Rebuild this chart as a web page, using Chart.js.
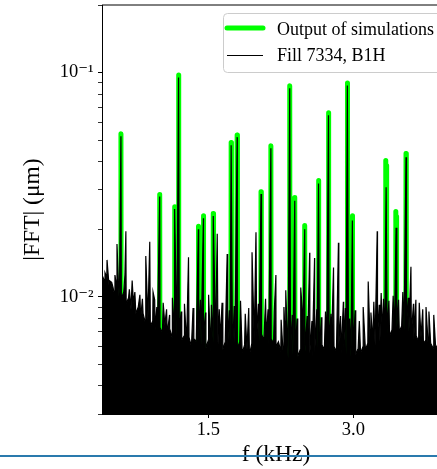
<!DOCTYPE html>
<html>
<head>
<meta charset="utf-8">
<script src="https://cdn.jsdelivr.net/npm/chart.js"></script>
<style>
html, body { margin: 0; padding: 0; overflow: hidden; background: #fff; }
</style>
</head>
<body>
<canvas id="fftChart" width="456" height="469"></canvas>
<script>
// axis ranges and ticks
const xMin = 0.4, xMax = 4.0;
const yMin = 0.003, yMax = 0.2;
const xTicks = [1.5, 3.0];
const yMajorTicks = [0.01, 0.1];
const yTickLabels = ["10⁻²", "10⁻¹"];

// simulated harmonic lines (kHz, um)
const simFreq = [0.596, 0.997, 1.151, 1.192, 1.397, 1.449, 1.551, 1.736, 1.798, 2.045, 2.147, 2.342,
                 2.394, 2.497, 2.640, 2.743, 2.938, 2.990, 3.334, 3.343, 3.438, 3.446, 3.545];
const simAmp = [0.0533, 0.0286, 0.0252, 0.0975, 0.0206, 0.0230, 0.0235, 0.0487, 0.0527, 0.0294, 0.0471, 0.0872,
                0.0277, 0.0208, 0.0330, 0.0661, 0.0897, 0.0230, 0.0405, 0.0385, 0.0240, 0.0228, 0.0435];
const simFloor = 0.002;
const simHalfWidth = 0.003;

// measured spectrum, noise floor
const noiseFreq = [
  0.400, 0.425, 0.450, 0.475, 0.500, 0.525, 0.550, 0.575,
  0.600, 0.625, 0.650, 0.675, 0.700, 0.725, 0.750, 0.775,
  0.800, 0.825, 0.850, 0.875, 0.900, 0.925, 0.950, 0.975,
  1.000, 1.025, 1.050, 1.075, 1.100, 1.125, 1.150, 1.175,
  1.200, 1.225, 1.250, 1.275, 1.300, 1.325, 1.350, 1.375,
  1.400, 1.425, 1.450, 1.475, 1.500, 1.525, 1.550, 1.575,
  1.600, 1.625, 1.650, 1.675, 1.700, 1.725, 1.750, 1.775,
  1.800, 1.825, 1.850, 1.875, 1.900, 1.925, 1.950, 1.975,
  2.000, 2.025, 2.050, 2.075, 2.100, 2.125, 2.150, 2.175,
  2.200, 2.225, 2.250, 2.275, 2.300, 2.325, 2.350, 2.375,
  2.400, 2.425, 2.450, 2.475, 2.500, 2.525, 2.550, 2.575,
  2.600, 2.625, 2.650, 2.675, 2.700, 2.725, 2.750, 2.775,
  2.800, 2.825, 2.850, 2.875, 2.900, 2.925, 2.950, 2.975,
  3.000, 3.025, 3.050, 3.075, 3.100, 3.125, 3.150, 3.175,
  3.200, 3.225, 3.250, 3.275, 3.300, 3.325, 3.350, 3.375,
  3.400, 3.425, 3.450, 3.475, 3.500, 3.525, 3.550, 3.575,
  3.600, 3.625, 3.650, 3.675, 3.700, 3.725, 3.750, 3.775,
  3.800, 3.825, 3.850, 3.875, 3.900, 3.925, 3.950, 3.975,
  4.000];
const noiseAmp = [
  0.0125, 0.0118, 0.0122, 0.0109, 0.0116, 0.0104, 0.0112, 0.0101,
  0.0098, 0.0105, 0.0093, 0.0099, 0.0088, 0.0094, 0.0084, 0.0090,
  0.0080, 0.0084, 0.0076, 0.0079, 0.0074, 0.0078, 0.0071, 0.0076,
  0.0073, 0.0069, 0.0075, 0.0068, 0.0072, 0.0066, 0.0071, 0.0067,
  0.0069, 0.0064, 0.0067, 0.0062, 0.0066, 0.0060, 0.0065, 0.0063,
  0.0066, 0.0061, 0.0068, 0.0059, 0.0064, 0.0057, 0.0063, 0.0066,
  0.0061, 0.0065, 0.0058, 0.0063, 0.0060, 0.0064, 0.0057, 0.0062,
  0.0059, 0.0063, 0.0056, 0.0061, 0.0058, 0.0055, 0.0062, 0.0065,
  0.0067, 0.0063, 0.0068, 0.0064, 0.0066, 0.0061, 0.0065, 0.0062,
  0.0060, 0.0063, 0.0057, 0.0055, 0.0059, 0.0053, 0.0057, 0.0055,
  0.0057, 0.0054, 0.0058, 0.0055, 0.0057, 0.0053, 0.0056, 0.0054,
  0.0056, 0.0059, 0.0055, 0.0061, 0.0058, 0.0062, 0.0059, 0.0063,
  0.0060, 0.0057, 0.0061, 0.0056, 0.0059, 0.0055, 0.0058, 0.0054,
  0.0057, 0.0055, 0.0059, 0.0056, 0.0060, 0.0058, 0.0062, 0.0060,
  0.0063, 0.0061, 0.0066, 0.0063, 0.0068, 0.0065, 0.0069, 0.0067,
  0.0071, 0.0068, 0.0073, 0.0070, 0.0074, 0.0071, 0.0075, 0.0070,
  0.0068, 0.0065, 0.0067, 0.0063, 0.0066, 0.0062, 0.0064, 0.0060,
  0.0062, 0.0059, 0.0061, 0.0058, 0.0060, 0.0057, 0.0059, 0.0056,
  0.0058];

// measured spectrum, lines under the simulated peaks
const lineFreq = [0.596, 0.997, 1.151, 1.192, 1.397, 1.449, 1.551, 1.736, 1.798, 2.045, 2.147,
                  2.342, 2.394, 2.497, 2.640, 2.743, 2.938, 2.990, 3.339, 3.442, 3.545];
const lineAmp = [0.0520, 0.0280, 0.0246, 0.0950, 0.0200, 0.0224, 0.0229, 0.0474, 0.0515, 0.0287, 0.0459,
                 0.0850, 0.0268, 0.0200, 0.0320, 0.0645, 0.0875, 0.0219, 0.0308, 0.0203, 0.0419];

// measured spectrum, other spikes
const spikeFreq = [0.431, 0.452, 0.478, 0.514, 0.534, 0.555, 0.582, 0.637, 0.647, 0.683, 0.712, 0.740,
  0.792, 0.818, 0.853, 0.894, 0.928, 0.945, 0.967, 1.033, 1.068, 1.099, 1.128, 1.218, 1.253, 1.295,
  1.342, 1.418, 1.472, 1.503, 1.532, 1.592, 1.613, 1.642, 1.695, 1.718, 1.768, 1.833, 1.882, 1.918,
  1.952, 1.993, 2.018, 2.092, 2.118, 2.182, 2.199, 2.253, 2.282, 2.301, 2.368, 2.418, 2.456, 2.472,
  2.522, 2.548, 2.572, 2.599, 2.622, 2.668, 2.712, 2.768, 2.795, 2.846, 2.868, 2.897, 2.918, 2.962,
  3.018, 3.062, 3.102, 3.154, 3.182, 3.212, 3.247, 3.268, 3.288, 3.312, 3.368, 3.412, 3.468, 3.512,
  3.568, 3.596, 3.622, 3.647, 3.682, 3.718, 3.752, 3.782, 3.832, 3.882, 3.932, 3.968];
const spikeAmp = [0.0128, 0.0146, 0.0118, 0.0110, 0.0125, 0.0172, 0.0115, 0.0125, 0.0196, 0.0108, 0.0118, 0.0105,
  0.0102, 0.0098, 0.0152, 0.0176, 0.0105, 0.0097, 0.0090, 0.0094, 0.0088, 0.0083, 0.0099, 0.0086, 0.0093, 0.0150,
  0.0089, 0.0097, 0.0085, 0.0102, 0.0092, 0.0191, 0.0088, 0.0094, 0.0155, 0.0087, 0.0091, 0.0096, 0.0084, 0.0089,
  0.0158, 0.0194, 0.0093, 0.0098, 0.0088, 0.0086, 0.0125, 0.0079, 0.0090, 0.0107, 0.0083, 0.0080, 0.0110, 0.0086,
  0.0082, 0.0157, 0.0078, 0.0149, 0.0088, 0.0081, 0.0086, 0.0084, 0.0135, 0.0174, 0.0082, 0.0095, 0.0089, 0.0080,
  0.0087, 0.0078, 0.0090, 0.0117, 0.0085, 0.0095, 0.0196, 0.0092, 0.0104, 0.0098, 0.0096, 0.0101, 0.0097, 0.0105,
  0.0099, 0.0136, 0.0093, 0.0097, 0.0094, 0.0088, 0.0090, 0.0086, 0.0083, 0.0085, 0.0080, 0.0082];

const serif = "'Liberation Serif', 'Times New Roman', 'DejaVu Serif', serif";

const simPoints = [];
simFreq.forEach((f, i) => {
    simPoints.push({ x: f - simHalfWidth, y: simFloor }, { x: f, y: simAmp[i] }, { x: f + simHalfWidth, y: simFloor });
});
simPoints.sort((a, b) => a.x - b.x);

const measPoints = noiseFreq.map((f, i) => ({ x: f, y: noiseAmp[i] }))
    .concat(lineFreq.map((f, i) => ({ x: f, y: lineAmp[i] })))
    .concat(spikeFreq.map((f, i) => ({ x: f, y: spikeAmp[i] })))
    .sort((a, b) => a.x - b.x);

function isMajor(v) {
    return yMajorTicks.some(t => Math.abs(t - v) < t * 1e-6);
}

// top / right spines
const framePlugin = {
    id: 'frame',
    afterDatasetsDraw(chart) {
        const c = chart.ctx, a = chart.chartArea;
        c.save();
        c.strokeStyle = '#000';
        c.lineWidth = 1;
        c.beginPath();
        c.moveTo(a.left, a.top);
        c.lineTo(a.right, a.top);
        c.lineTo(a.right, a.bottom);
        c.stroke();
        c.restore();
    }
};

// boxed legend inside the plot, upper right
const legendPlugin = {
    id: 'insideLegend',
    afterDraw(chart) {
        const c = chart.ctx, a = chart.chartArea;
        const left = a.right - 227, top = a.top + 8, w = 222, h = 59;
        c.save();
        c.beginPath();
        if (c.roundRect) c.roundRect(left + 0.5, top + 0.5, w, h, 4);
        else c.rect(left + 0.5, top + 0.5, w, h);
        c.fillStyle = 'rgba(255,255,255,0.8)';
        c.fill();
        c.strokeStyle = '#cccccc';
        c.lineWidth = 1;
        c.stroke();
        chart.data.datasets.forEach((ds, i) => {
            const thin = ds.borderWidth < 2;
            const yLine = top + 15 + i * 27 + (thin ? 0.5 : 0);
            c.beginPath();
            c.moveTo(left + 4, yLine);
            c.lineTo(left + 40, yLine);
            c.strokeStyle = ds.borderColor;
            c.lineWidth = thin ? 1 : ds.borderWidth;
            c.lineCap = ds.borderCapStyle || 'butt';
            c.stroke();
            c.fillStyle = '#000';
            c.font = '18px ' + serif;
            c.textBaseline = 'alphabetic';
            c.fillText(ds.label, left + 54, top + 22 + i * 26);
        });
        c.restore();
    }
};

// page rule under the figure
const rulePlugin = {
    id: 'pageRule',
    afterDraw(chart) {
        const c = chart.ctx;
        c.save();
        c.fillStyle = '#2a7aad';
        c.fillRect(0, 455, chart.width, 2);
        c.restore();
    }
};

const ctx = document.getElementById('fftChart').getContext('2d');
new Chart(ctx, {
    type: 'line',
    data: {
        datasets: [
            {
                label: 'Output of simulations',
                data: simPoints,
                borderColor: '#00ff00',
                borderWidth: 5,
                borderCapStyle: 'round',
                borderJoinStyle: 'round',
                pointRadius: 0,
                fill: false,
                tension: 0,
                order: 2
            },
            {
                label: 'Fill 7334, B1H',
                data: measPoints,
                borderColor: '#000000',
                backgroundColor: '#000000',
                borderWidth: 1.2,
                pointRadius: 0,
                fill: 'start',
                tension: 0,
                order: 1
            }
        ]
    },
    options: {
        responsive: false,
        animation: false,
        layout: { padding: { left: 0, top: 5, right: 6, bottom: 0 } },
        plugins: { legend: { display: false }, tooltip: { enabled: false } },
        scales: {
            x: {
                type: 'linear',
                min: xMin,
                max: xMax,
                afterBuildTicks: s => { s.ticks = xTicks.map(v => ({ value: v })); },
                afterFit: s => { s.height = 55; s.paddingLeft = 0; s.paddingRight = 0; },
                ticks: {
                    color: '#000',
                    font: { family: serif, size: 18.5 },
                    padding: 1.5,
                    maxRotation: 0,
                    autoSkip: false,
                    callback: v => Number(v).toFixed(1)
                },
                grid: { drawOnChartArea: false, tickLength: 4, color: '#000' },
                border: { color: '#000', width: 1 },
                title: { display: true, text: 'f (kHz)', color: '#000', font: { family: serif, size: 23.5 }, padding: 0 }
            },
            y: {
                type: 'logarithmic',
                min: yMin,
                max: yMax,
                afterBuildTicks: s => {
                    const vals = [];
                    [0.001, 0.01, 0.1].forEach(d => {
                        [1, 2, 3, 4, 5, 6, 7, 8, 9].forEach(m => {
                            const v = +(m * d).toPrecision(3);
                            if (v >= yMin && v <= yMax) vals.push(v);
                        });
                    });
                    s.ticks = vals.map(v => ({ value: v, major: isMajor(v) }));
                },
                afterFit: s => { s.width = 102; s.paddingTop = 0; s.paddingBottom = 0; },
                ticks: {
                    color: '#000',
                    font: { family: serif, size: 18.5 },
                    padding: 4.5,
                    autoSkip: false,
                    callback: v => {
                        const k = yMajorTicks.findIndex(t => Math.abs(t - v) < t * 1e-6);
                        return k >= 0 ? yTickLabels[k] : '';
                    }
                },
                grid: {
                    drawOnChartArea: false,
                    tickLength: 4,
                    color: '#000',
                    tickWidth: c => (c.tick && c.tick.major ? 1 : 0.8)
                },
                border: { color: '#000', width: 1 },
                title: { display: true, text: '|FFT| (μm)', color: '#000', font: { family: serif, size: 23.5 }, padding: { top: 19, bottom: 0 } }
            }
        }
    },
    plugins: [framePlugin, legendPlugin, rulePlugin]
});
</script>
</body>
</html>
